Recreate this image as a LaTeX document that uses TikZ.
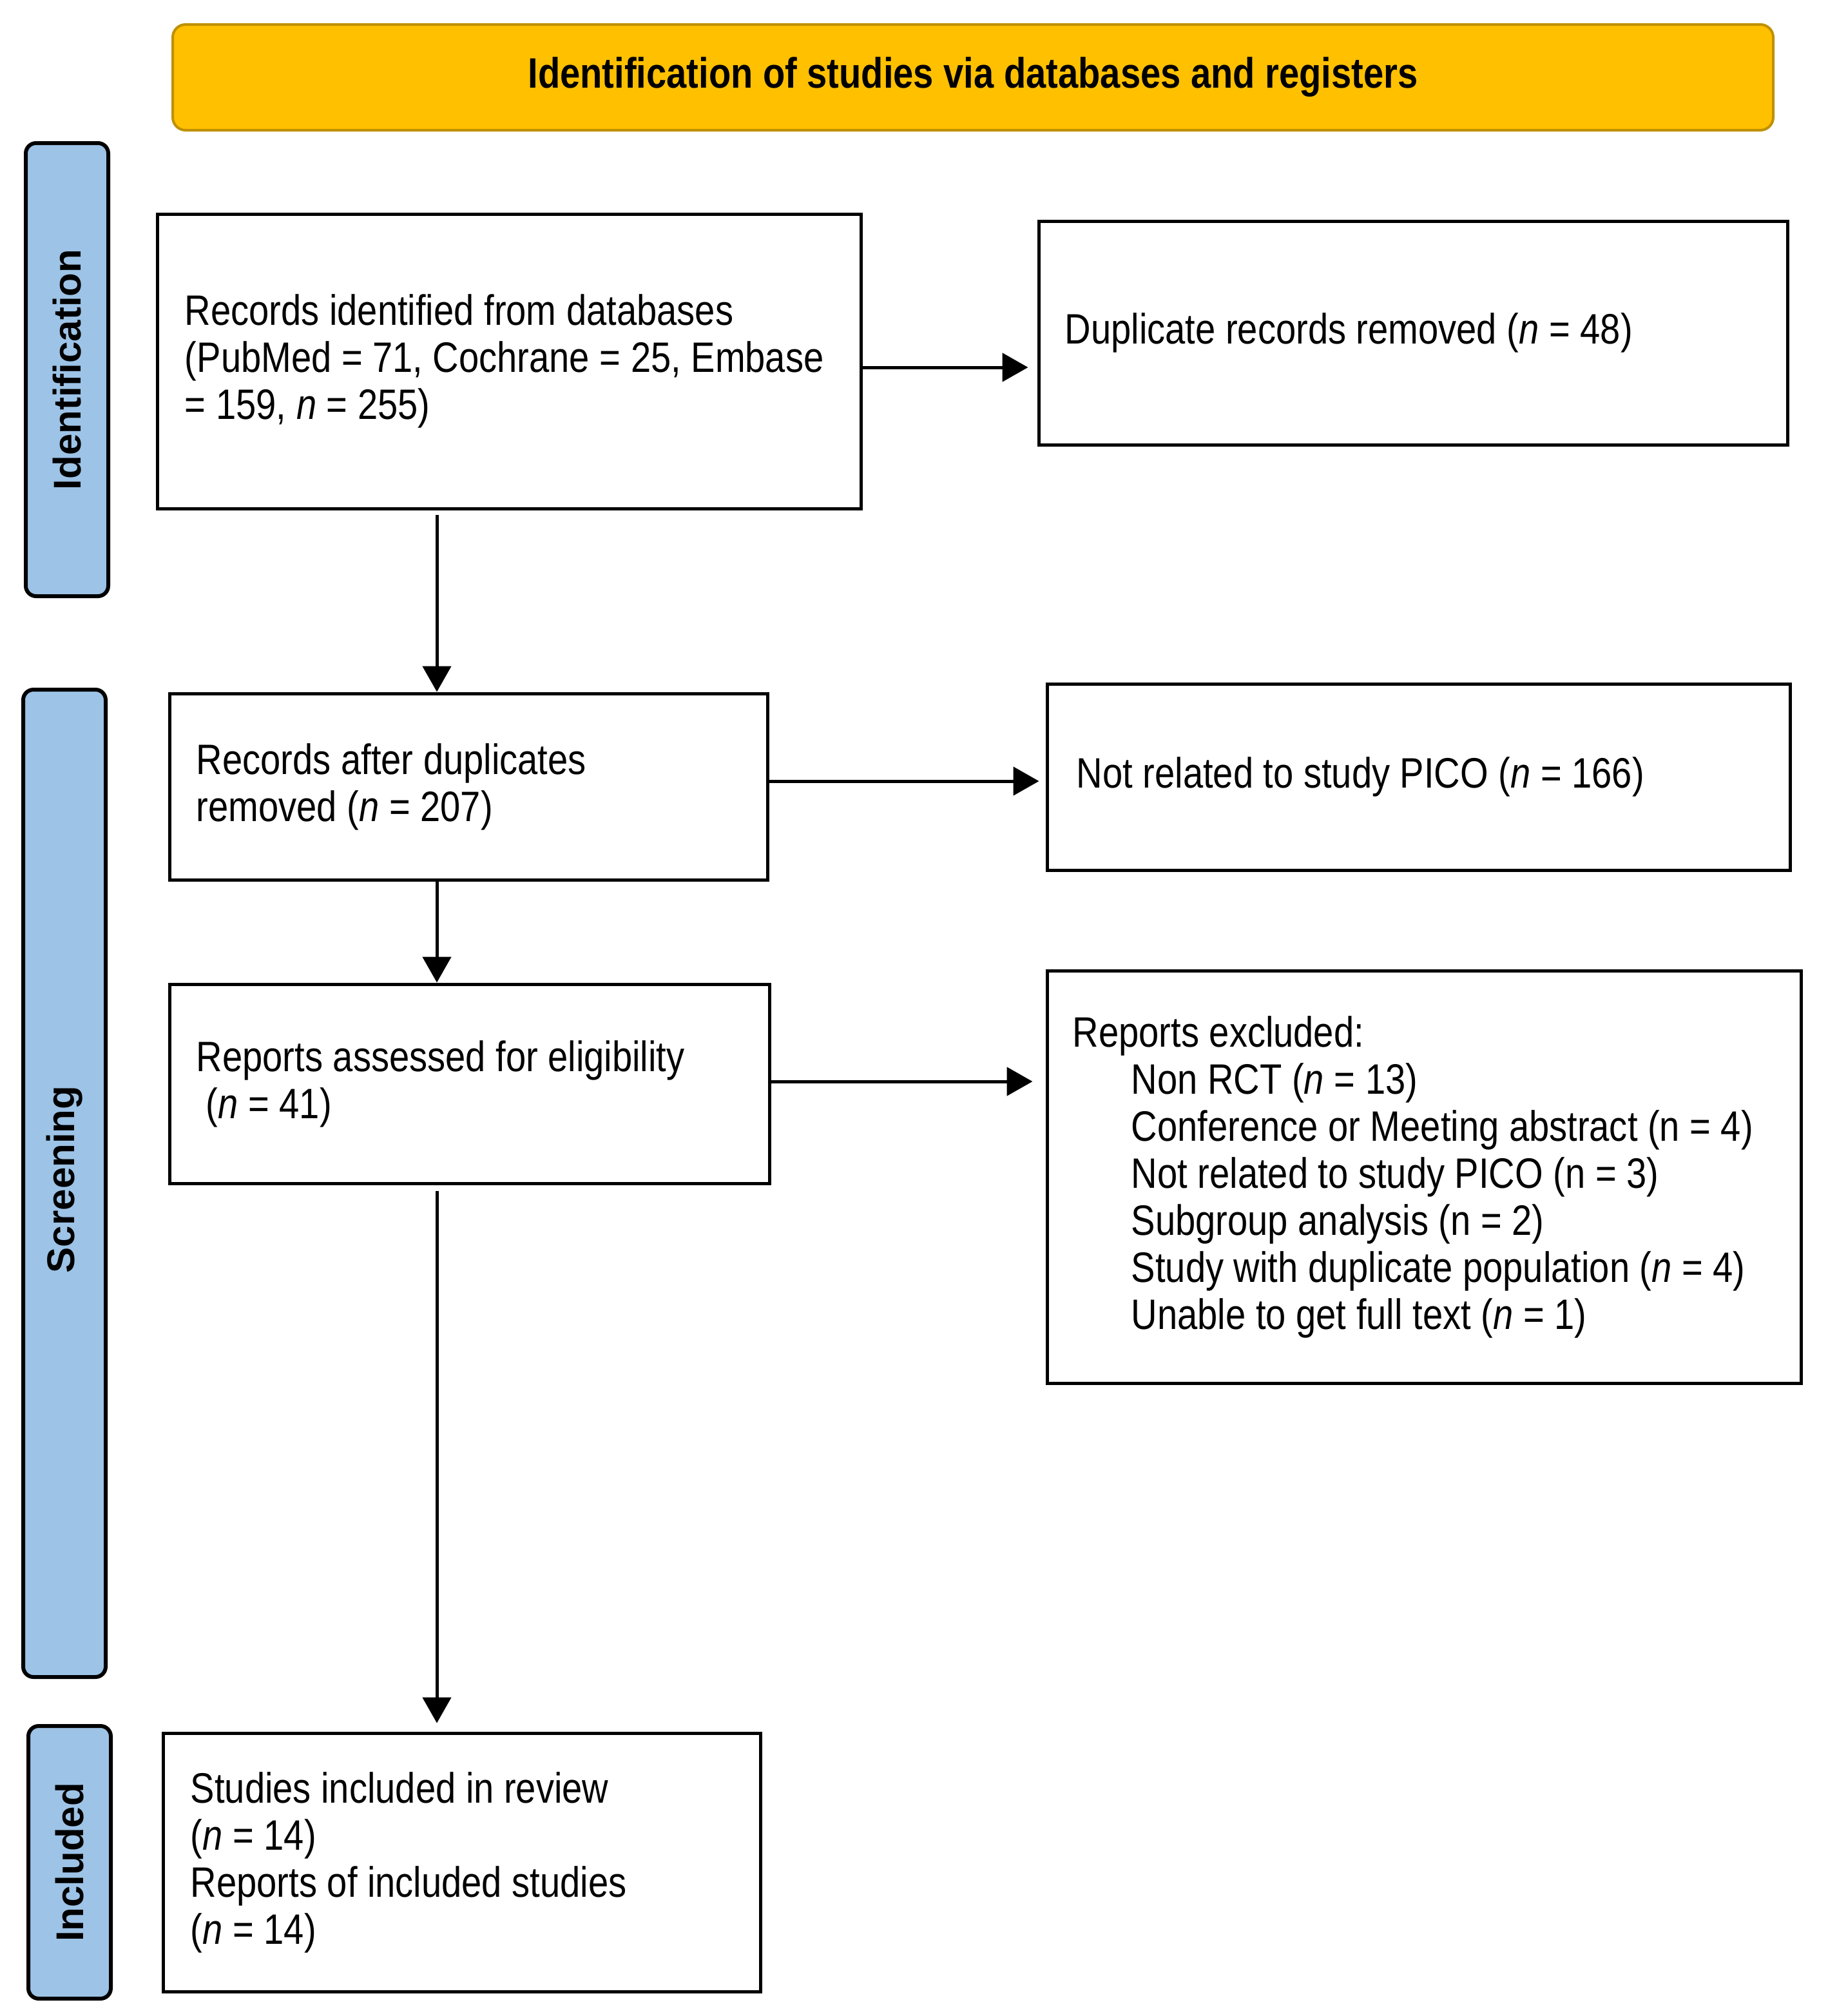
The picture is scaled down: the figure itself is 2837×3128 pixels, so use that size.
\documentclass[tikz,border=0pt]{standalone}
\usepackage{fontspec}
\setmainfont[FakeStretch=0.85]{Liberation Sans}
\newfontfamily\sidefont{Liberation Sans}
\usetikzlibrary{arrows.meta}
\definecolor{gold}{HTML}{FFC000}
\definecolor{golddark}{HTML}{BF9000}
\definecolor{sideblue}{HTML}{9DC3E6}
\begin{document}
\begin{tikzpicture}[x=0.5pt,y=-0.5pt,
  box/.style={draw=black, line width=2.5pt, fill=white, inner sep=0pt},
  txt/.style={anchor=west, inner sep=0pt, align=left, font=\fontsize{33}{36.5}\selectfont},
  side/.style={draw=black, line width=3pt, fill=sideblue, rounded corners=8pt, inner sep=0pt},
  sidetxt/.style={rotate=90, inner sep=0pt, font=\sidefont\bfseries\fontsize{30}{36}\selectfont},
  arr/.style={line width=2.5pt, -{Triangle[length=20pt,width=22pt]}}]
\useasboundingbox (0,0) rectangle (2837,3128);

% banner
\node[draw=golddark, line width=2pt, fill=gold, rounded corners=10pt,
      minimum width=1242pt, minimum height=82pt, inner sep=0pt,
      font=\bfseries\fontsize{33}{36.5}\selectfont] (banner) at (1510,120)
      {Identification of studies via databases and registers};

% side bars
\node[side, minimum width=64pt, minimum height=351.5pt] (idbar) at (104,573.5) {};
\node[sidetxt] (idlab) at (idbar.center) {Identification};
\node[side, minimum width=64pt, minimum height=766pt] (scrbar) at (100,1836) {};
\node[sidetxt] (scrlab) at (100,1830) {Screening};
\node[side, minimum width=64pt, minimum height=211.5pt] (incbar) at (108,2889.5) {};
\node[sidetxt] (inclab) at (incbar.center) {Included};

% boxes
\node[box, minimum width=546pt, minimum height=228.5pt] (b1) at (790,560.5) {};
\node[txt] (b1t) at ([xshift=22.5pt]b1.west)
  {Records identified from databases\\(PubMed = 71, Cochrane = 25, Embase\\= 159, \textit{n} = 255)};

\node[box, minimum width=581pt, minimum height=173.5pt] (dup) at (2193,516.5) {};
\node[txt] (dupt) at ([xshift=21.5pt]dup.west)
  {Duplicate records removed (\textit{n} = 48)};

\node[box, minimum width=464pt, minimum height=144.5pt] (b2) at (727,1220.5) {};
\node[txt] (b2t) at ([xshift=22pt]b2.west)
  {Records after duplicates\\removed (\textit{n} = 207)};

\node[box, minimum width=576.5pt, minimum height=144.5pt] (pico) at (2201.5,1205.5) {};
\node[txt] (picot) at ([xshift=24pt]pico.west)
  {Not related to study PICO (\textit{n} = 166)};

\node[box, minimum width=465.5pt, minimum height=154.5pt] (b3) at (728.5,1681.5) {};
\node[txt] (b3t) at ([xshift=22pt]b3.west)
  {Reports assessed for eligibility\\\hspace*{7.5pt}(\textit{n} = 41)};

\node[box, minimum width=585pt, minimum height=320pt] (excl) at (2210,1826) {};
\node[txt] (exclt) at ([xshift=21pt]excl.west)
  {Reports excluded:\\
   \hspace*{45.5pt}Non RCT (\textit{n} = 13)\\
   \hspace*{45.5pt}Conference or Meeting abstract (n = 4)\\
   \hspace*{45.5pt}Not related to study PICO (n = 3)\\
   \hspace*{45.5pt}Subgroup analysis (n = 2)\\
   \hspace*{45.5pt}Study with duplicate population (\textit{n} = 4)\\
   \hspace*{45.5pt}Unable to get full text (\textit{n} = 1)};

\node[box, minimum width=463.5pt, minimum height=200.5pt] (b4) at (716.5,2889.5) {};
\node[txt] (b4t) at ([xshift=22.5pt]b4.west)
  {Studies included in review\\(\textit{n} = 14)\\Reports of included studies\\(\textit{n} = 14)};

% connectors
\coordinate (colx) at (678,0);
\draw[arr, shorten <=3.5pt] (b1.south -| colx) -- (b2.north -| colx);
\draw[arr] (b2.south -| colx) -- (b3.north -| colx);
\draw[arr, shorten <=4.5pt, shorten >=6.5pt] (b3.south -| colx) -- (b4.north -| colx);

\draw[arr, shorten >=7pt] ([yshift=-4.75pt]b1.east) -- ([yshift=-4.75pt]b1.east -| dup.west);
\draw[arr, shorten >=5pt] ([yshift=4.25pt]b2.east) -- ([yshift=4.25pt]b2.east -| pico.west);
\draw[arr, shorten >=10pt] ([yshift=1.75pt]b3.east) -- ([yshift=1.75pt]b3.east -| excl.west);
\end{tikzpicture}
\end{document}
